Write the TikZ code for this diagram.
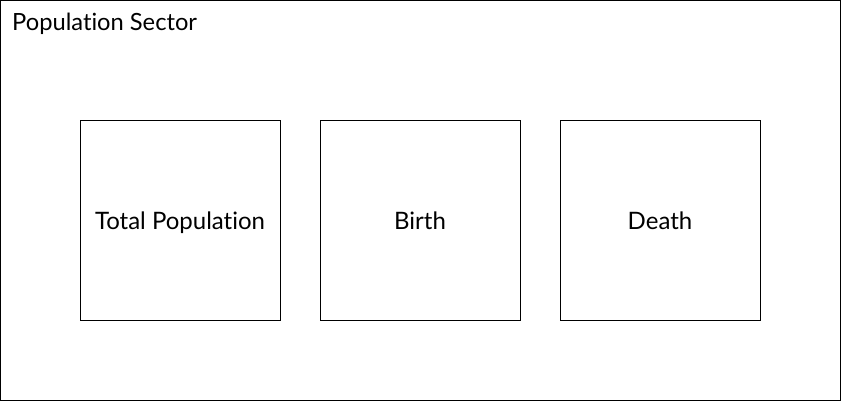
\documentclass[tikz,border=0pt]{standalone}
\usepackage{fontspec}
\setmainfont[Ligatures=NoCommon]{Lato}
\begin{document}
\begin{tikzpicture}[x=1pt,y=-1pt,
  box/.style={draw=black,line width=0.8pt,minimum width=200pt,minimum height=200pt,inner sep=0pt},
  label/.style={anchor=base,inner sep=0pt,font=\fontsize{24}{28}\selectfont},
  frame/.style={draw=black,line width=0.8pt}]
\useasboundingbox (0,0) rectangle (842,402);
\node[frame,minimum width=840pt,minimum height=400pt,inner sep=0pt] (sector) at (420.5,200.5) {};
\node[anchor=base west,inner sep=0pt,font=\fontsize{23.7}{28}\selectfont] (title) at (12,30) {Population Sector};
\node[box] (total) at (180,220) {};
\node[box] (birth) at (420,220) {};
\node[box] (death) at (660,220) {};
\node[label] (totaltext) at (180,229.5) {Total Population};
\node[label] (birthtext) at (420,229.5) {Birth};
\node[label] (deathtext) at (660,229.5) {Death};
\end{tikzpicture}
\end{document}
